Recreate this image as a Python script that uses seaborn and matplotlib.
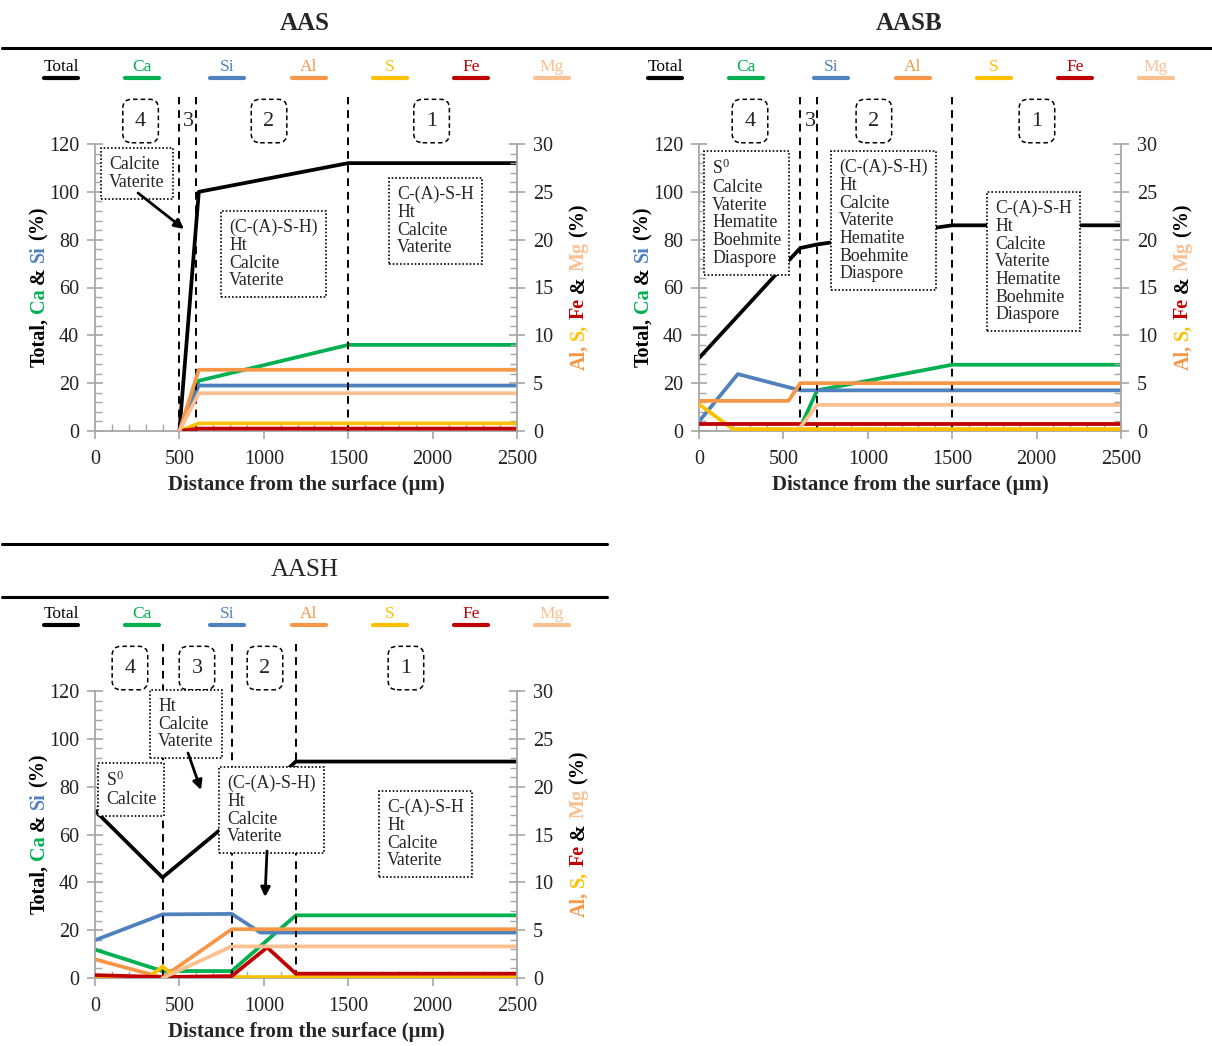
import matplotlib
matplotlib.use("Agg")
import numpy as np
import pandas as pd
import seaborn as sns
import matplotlib.pyplot as plt
from matplotlib.lines import Line2D
from matplotlib.ticker import MultipleLocator

# ---------------- data ----------------
series_names = ["Total", "Ca", "Si", "Al", "S", "Fe", "Mg"]
left_series = ["Total", "Ca", "Si"]
right_series = ["Al", "S", "Fe", "Mg"]
panel_names = ["AAS", "AASB", "AASH"]

# AAS
aas_total_x = [500, 615, 1500, 2500]
aas_total_y = [0, 100, 112, 112]
aas_ca_x = [500, 615, 1500, 2500]
aas_ca_y = [0, 21, 36, 36]
aas_si_x = [500, 615, 2500]
aas_si_y = [0, 19, 19]
aas_al_x = [500, 615, 2500]
aas_al_y = [0, 6.4, 6.4]
aas_s_x = [500, 615, 2500]
aas_s_y = [0, 0.8, 0.8]
aas_fe_x = [500, 615, 2500]
aas_fe_y = [0, 0.25, 0.25]
aas_mg_x = [500, 615, 2500]
aas_mg_y = [0, 3.95, 3.95]
aas_zone_bounds = [500, 600, 1500]

# AASB
aasb_total_x = [0, 600, 700, 1500, 2500]
aasb_total_y = [30.5, 76.5, 78, 86, 86]
aasb_ca_x = [600, 700, 1500, 2500]
aasb_ca_y = [1.5, 17, 27.7, 27.7]
aasb_si_x = [0, 230, 600, 2500]
aasb_si_y = [4, 23.8, 17, 17]
aasb_al_x = [0, 530, 600, 2500]
aasb_al_y = [3.15, 3.15, 5.0, 5.0]
aasb_s_x = [0, 200, 2500]
aasb_s_y = [2.8, 0.2, 0.2]
aasb_fe_x = [0, 2500]
aasb_fe_y = [0.77, 0.77]
aasb_mg_x = [600, 700, 2500]
aasb_mg_y = [0.4, 2.73, 2.73]
aasb_zone_bounds = [600, 700, 1500]

# AASH
aash_total_x = [0, 400, 810, 1190, 2500]
aash_total_y = [70, 42, 66, 90.5, 90.5]
aash_ca_x = [0, 400, 810, 1190, 2500]
aash_ca_y = [11.9, 2.9, 2.9, 26.2, 26.2]
aash_si_x = [0, 400, 810, 980, 2500]
aash_si_y = [15.8, 26.6, 26.8, 19, 19]
aash_al_x = [0, 400, 810, 2500]
aash_al_y = [1.95, 0.05, 5.1, 5.1]
aash_s_x = [0, 320, 400, 480, 2500]
aash_s_y = [0.1, 0.1, 1.2, 0.1, 0.1]
aash_fe_x = [0, 400, 810, 1020, 1190, 2500]
aash_fe_y = [0.3, 0.1, 0.2, 3.2, 0.45, 0.45]
aash_mg_x = [400, 810, 2500]
aash_mg_y = [0, 3.3, 3.3]
aash_zone_bounds = [400, 810, 1190]

x_ticks = [0, 500, 1000, 1500, 2000, 2500]
left_ticks = [0, 20, 40, 60, 80, 100, 120]
right_ticks = [0, 5, 10, 15, 20, 25, 30]

# phase annotations (text only)
aas_notes = ["Calcite\nVaterite",
             "(C-(A)-S-H)\nHt\nCalcite\nVaterite",
             "C-(A)-S-H\nHt\nCalcite\nVaterite"]
aasb_notes = ["S$^0$\nCalcite\nVaterite\nHematite\nBoehmite\nDiaspore",
              "(C-(A)-S-H)\nHt\nCalcite\nVaterite\nHematite\nBoehmite\nDiaspore",
              "C-(A)-S-H\nHt\nCalcite\nVaterite\nHematite\nBoehmite\nDiaspore"]
aash_notes = ["S$^0$\nCalcite",
              "Ht\nCalcite\nVaterite",
              "(C-(A)-S-H)\nHt\nCalcite\nVaterite",
              "C-(A)-S-H\nHt\nCalcite\nVaterite"]
zone_labels = ["4", "3", "2", "1"]

raw = {
    "AAS": {"Total": (aas_total_x, aas_total_y), "Ca": (aas_ca_x, aas_ca_y), "Si": (aas_si_x, aas_si_y),
            "Al": (aas_al_x, aas_al_y), "S": (aas_s_x, aas_s_y), "Fe": (aas_fe_x, aas_fe_y), "Mg": (aas_mg_x, aas_mg_y)},
    "AASB": {"Total": (aasb_total_x, aasb_total_y), "Ca": (aasb_ca_x, aasb_ca_y), "Si": (aasb_si_x, aasb_si_y),
             "Al": (aasb_al_x, aasb_al_y), "S": (aasb_s_x, aasb_s_y), "Fe": (aasb_fe_x, aasb_fe_y), "Mg": (aasb_mg_x, aasb_mg_y)},
    "AASH": {"Total": (aash_total_x, aash_total_y), "Ca": (aash_ca_x, aash_ca_y), "Si": (aash_si_x, aash_si_y),
             "Al": (aash_al_x, aash_al_y), "S": (aash_s_x, aash_s_y), "Fe": (aash_fe_x, aash_fe_y), "Mg": (aash_mg_x, aash_mg_y)},
}
rows = []
for p, d in raw.items():
    for s, (xs, ys) in d.items():
        for xv, yv in zip(xs, ys):
            rows.append((p, s, xv, yv))
df = pd.DataFrame(rows, columns=["panel", "series", "x", "y"])

# ---------------- style ----------------
COLORS = {"Total": "#000000", "Ca": "#00B050", "Si": "#4F81BD", "Al": "#F79646",
          "S": "#FFC000", "Fe": "#C00000", "Mg": "#FAC090"}
sns.set_theme(style="white")
plt.rcParams["font.family"] = ["Liberation Serif", "DejaVu Serif"]
plt.rcParams["mathtext.fontset"] = "custom"
plt.rcParams["mathtext.rm"] = "Liberation Serif"
plt.rcParams["mathtext.default"] = "regular"

W, H = 1212, 1046
fig = plt.figure(figsize=(W / 100, H / 100), dpi=100)
renderer = fig.canvas.get_renderer()

def fx(px):
    return px / W

def fy(py):
    return 1 - py / H

SPINE = "#A6A6A6"
AX_W, AX_H = 422, 287
NOTE_FS = 12.8

# layout per panel: (dx, dy) offsets in pixels relative to AAS layout
layout = {
    "AAS": dict(dx=0, dy=0, title_bold=True, notes=aas_notes, bounds=aas_zone_bounds,
                zones=[(270, True), (551, False), (1031, True), (1994, True)],
                note_boxes=[(101, 148), (221, 211), (389, 178)],
                arrows=[((138, 193), (184, 229))]),
    "AASB": dict(dx=604, dy=0, title_bold=True, notes=aasb_notes, bounds=aasb_zone_bounds,
                 zones=[(302, True), (663, False), (1036, True), (2002, True)],
                 note_boxes=[(100, 151), (227, 151), (383, 192)],
                 arrows=[]),
    "AASH": dict(dx=0, dy=547, title_bold=False, notes=aash_notes, bounds=aash_zone_bounds,
                 zones=[(207, True), (604, True), (1007, True), (1842, True)],
                 note_boxes=[(98, 216), (150, 143), (219, 220), (379, 244)],
                 arrows=[((188, 206), (201, 243)), ((267, 304), (265, 350))]),
}

def vlabel(x_px, yc_px, parts, size):
    ts = [fig.text(0, 0, s, color=c, rotation=90, rotation_mode="anchor", ha="left",
                   va="baseline", fontsize=size, fontweight="bold") for s, c in parts]
    lens = [t.get_window_extent(renderer).height for t in ts]
    gap = size * 100 / 72 * 0.25
    total = sum(lens) + gap * (len(ts) - 1)
    y = (H - yc_px) - total / 2
    for t, L in zip(ts, lens):
        t.set_position((x_px / W, y / H))
        y += L + gap

for pname in panel_names:
    L = layout[pname]
    dx, dy = L["dx"], L["dy"]
    ax_left, ax_top = 95 + dx, 144 + dy
    ax = fig.add_axes([fx(ax_left), fy(ax_top + AX_H), AX_W / W, AX_H / H])
    ax2 = ax.twinx()
    sub = df[df.panel == pname]
    for s in left_series:
        sns.lineplot(data=sub[sub.series == s], x="x", y="y", ax=ax, color=COLORS[s],
                     lw=2.7, sort=False, estimator=None)
    for s in right_series:
        sns.lineplot(data=sub[sub.series == s], x="x", y="y", ax=ax2, color=COLORS[s],
                     lw=2.7, sort=False, estimator=None)
    ax.set_xlim(0, 2500)
    ax.set_ylim(0, 120)
    ax2.set_ylim(0, 30)
    ax.set_xlabel("")
    ax.set_ylabel("")
    ax2.set_ylabel("")
    ax.set_xticks(x_ticks)
    ax.set_yticks(left_ticks)
    ax2.set_yticks(right_ticks)
    ax.xaxis.set_minor_locator(MultipleLocator(100))
    ax.yaxis.set_minor_locator(MultipleLocator(4))
    ax2.yaxis.set_minor_locator(MultipleLocator(1))
    for a in (ax, ax2):
        a.grid(False)
        for sp in a.spines.values():
            sp.set_visible(False)
    ax.spines["left"].set_visible(True)
    ax.spines["bottom"].set_visible(True)
    ax2.spines["right"].set_visible(True)
    for sp in (ax.spines["left"], ax.spines["bottom"], ax2.spines["right"]):
        sp.set_color(SPINE)
        sp.set_linewidth(1.3)
    ax.tick_params(axis="y", which="major", left=True, right=False, direction="inout",
                   length=11, width=1.2, color=SPINE, labelsize=14.5, pad=6, labelcolor="#222222")
    ax.tick_params(axis="y", which="minor", left=True, right=False, direction="in",
                   length=5, width=1.0, color=SPINE)
    ax2.tick_params(axis="y", which="major", right=True, left=False, direction="inout",
                    length=11, width=1.2, color=SPINE, labelsize=14.5, pad=6, labelcolor="#222222")
    ax2.tick_params(axis="y", which="minor", right=True, left=False, direction="in",
                    length=5, width=1.0, color=SPINE)
    ax.tick_params(axis="x", which="major", bottom=True, top=False, direction="out",
                   length=6, width=1.2, color=SPINE, labelsize=14.5, pad=8, labelcolor="#222222")
    ax.tick_params(axis="x", which="minor", bottom=True, top=False, direction="in",
                   length=5, width=1.0, color=SPINE)

    # zone boundaries
    for b in L["bounds"]:
        ax.plot([b, b], [0, 139.6], ls=(0, (4, 3)), color="black", lw=1.4, clip_on=False, zorder=3)
    # zone numbers
    for lab, (zx, boxed) in zip(zone_labels, L["zones"]):
        kw = {}
        if boxed:
            kw["bbox"] = dict(boxstyle="round,pad=0.55,rounding_size=0.4", fc="white", ec="black",
                              ls=(0, (3, 2)), lw=1.1)
        ax2.text(zx, 129.6, lab, transform=ax.transData, ha="center", va="center",
                 fontsize=16, zorder=6, **kw)
    # notes
    toX = lambda px: (px - 95) * 2500 / AX_W
    toY = lambda py: (431 - py) * 120 / AX_H
    for txt, (bx, by) in zip(L["notes"], L["note_boxes"]):
        pad_px = 0.45 * NOTE_FS * 100 / 72
        ax2.text(toX(bx + pad_px), toY(by + pad_px), txt, transform=ax.transData, ha="left", va="top",
                 fontsize=NOTE_FS, linespacing=1.05, zorder=7,
                 bbox=dict(boxstyle="square,pad=0.45", fc="white", ec="black", ls=(0, (1, 1.2)), lw=1.2))
    for (sx, sy), (ex, ey) in L["arrows"]:
        ax2.annotate("", xy=(toX(ex), toY(ey)), xytext=(toX(sx), toY(sy)), xycoords=ax.transData,
                     textcoords=ax.transData, annotation_clip=False, zorder=8,
                     arrowprops=dict(arrowstyle="-|>", lw=2.0, color="black", mutation_scale=14,
                                     shrinkA=0, shrinkB=0))

    # x label
    fig.text(fx(306 + dx), fy(485 + dy), "Distance from the surface (μm)", ha="center", va="center",
             fontsize=15, fontweight="bold")
    # y labels
    vlabel(44 + dx, 287 + dy, [("Total,", "black"), ("Ca", COLORS["Ca"]), ("&", "black"),
                                ("Si", COLORS["Si"]), ("(%)", "black")], 14.5)
    vlabel(584 + dx, 287 + dy, [("Al,", COLORS["Al"]), ("S,", COLORS["S"]), ("Fe", COLORS["Fe"]),
                                 ("&", "black"), ("Mg", COLORS["Mg"]), ("(%)", "black")], 14.5)

    # title
    fig.text(fx(305 + dx), fy(23 + dy), pname, ha="center", va="center",
             fontsize=18, fontweight="bold" if L["title_bold"] else "normal")
    # legend
    leg_x = [61, 142, 227, 309, 390, 471, 552]
    for s, cx in zip(series_names, leg_x):
        fig.text(fx(cx + dx), fy(67 + dy), s, ha="center", va="center", fontsize=12.5,
                 color=COLORS[s])
        fig.add_artist(Line2D([fx(cx + dx - 17), fx(cx + dx + 17)], [fy(78 + dy), fy(78 + dy)],
                              color=COLORS[s], lw=3))

# horizontal rules
fig.add_artist(Line2D([fx(2), fx(1212)], [fy(48), fy(48)], color="black", lw=2.2))
fig.add_artist(Line2D([fx(2), fx(607)], [fy(544), fy(544)], color="black", lw=2.2))
fig.add_artist(Line2D([fx(2), fx(607)], [fy(597), fy(597)], color="black", lw=2.2))

fig.savefig("out.png", dpi=100)
